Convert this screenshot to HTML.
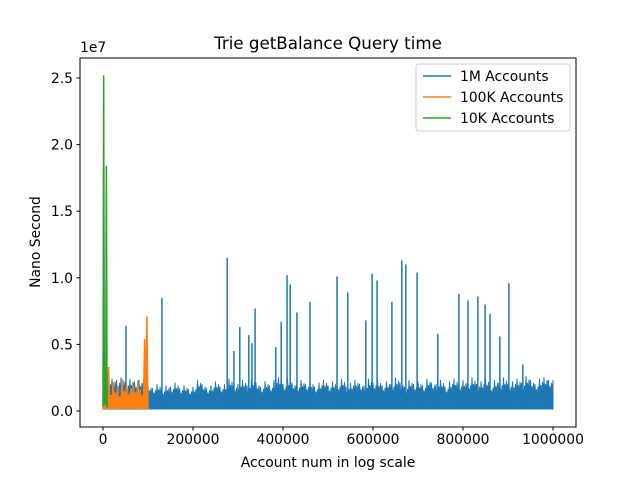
<!DOCTYPE html>
<html><head><meta charset="utf-8"><style>
body{margin:0;background:#fff}
svg{display:block;font-family:"DejaVu Sans","Liberation Sans",sans-serif}
</style></head><body>
<svg id="c" width="640" height="480"></svg>
<script>
// ---- data ----
const xTicks=[0,200000,400000,600000,800000,1000000];
const xTickLabels=["0","200000","400000","600000","800000","1000000"];
const yTicks=[0,5e6,10e6,15e6,20e6,25e6];
const yTickLabels=["0.0","0.5","1.0","1.5","2.0","2.5"];
// 1M accounts: band envelope per 10k bin (ns)
const blueEnvelope=[0.8e6,2.2e6,2.4e6,2.3e6,2.5e6,2.1e6,2.4e6,2.2e6,2.3e6,2.4e6,
1.9e6,1.7e6,2.0e6,1.6e6,1.9e6,1.8e6,2.1e6,1.7e6,1.9e6,1.6e6,
1.8e6,2.3e6,2.0e6,1.7e6,1.9e6,2.2e6,1.8e6,2.0e6,2.4e6,1.9e6,
2.0e6,2.3e6,1.9e6,2.4e6,2.1e6,1.8e6,2.2e6,1.9e6,2.3e6,2.5e6,
2.0e6,2.4e6,2.1e6,1.9e6,2.3e6,2.0e6,2.2e6,1.8e6,2.1e6,2.3e6,
1.9e6,2.2e6,2.0e6,2.4e6,1.8e6,2.1e6,2.3e6,2.0e6,1.9e6,2.4e6,
2.1e6,2.3e6,1.9e6,2.2e6,2.0e6,2.5e6,2.1e6,1.8e6,2.3e6,2.0e6,
2.2e6,1.9e6,2.4e6,2.1e6,2.0e6,2.3e6,1.8e6,2.2e6,2.4e6,2.0e6,
2.3e6,2.1e6,2.5e6,2.0e6,2.2e6,2.4e6,1.9e6,2.3e6,2.1e6,2.5e6,
2.0e6,2.2e6,2.4e6,2.1e6,2.6e6,2.3e6,2.0e6,2.4e6,2.5e6,2.3e6];
const blueSpikeX=[51e3,131e3,276e3,291e3,304e3,324e3,331e3,338e3,384e3,396e3,409e3,416e3,431e3,460e3,520e3,544e3,584e3,598e3,609e3,642e3,664e3,673e3,698e3,744e3,791e3,811e3,833e3,849e3,860e3,882e3,902e3,933e3,987e3];
const blueSpikeY=[6.4e6,8.5e6,11.5e6,4.5e6,6.3e6,5.7e6,5.1e6,7.7e6,4.8e6,6.7e6,10.2e6,9.5e6,7.4e6,8.2e6,10.1e6,8.9e6,6.8e6,10.3e6,9.8e6,8.2e6,11.3e6,11.0e6,10.4e6,5.8e6,8.8e6,8.3e6,8.6e6,8.0e6,7.3e6,5.6e6,9.6e6,3.5e6,2.3e6];
const blueLow=0.15e6;
// 100K accounts: envelope per 5k bin
const orangeEnvelope=[1.0e6,1.5e6,3.3e6,1.2e6,2.2e6,1.4e6,1.8e6,1.1e6,2.4e6,1.5e6,2.0e6,1.3e6,1.7e6,1.9e6,1.4e6,2.3e6,1.6e6,1.2e6,5.4e6,7.1e6];
const orangeLow=0.15e6;
// 10K accounts
const greenX=[0,1500,3000,4500,6000,7500,9000,10000];
const greenY=[0.3e6,25.2e6,0.5e6,1.1e6,0.4e6,18.4e6,0.6e6,0.2e6];

// ---- axes ----
const L=80,R=576,T=58,B=427;
const X=v=>103+v*450/1e6;
const Y=v=>411-v*13.32/1e6;
const svg=document.getElementById('c');
const NS='http://www.w3.org/2000/svg';
function mk(t,a,p){const e=document.createElementNS(NS,t);for(const k in a)e.setAttribute(k,a[k]);(p||svg).appendChild(e);return e;}

// blue band (filled, jagged top)
const shape=[1,0.55,0.8,0.5,0.9,0.6];
let pts=[X(0)+','+Y(blueLow)];
blueEnvelope.forEach((v,i)=>{const x0=i*10000;
 for(let j=0;j<6;j++){pts.push(X(x0+j*10000/6)+','+Y(v*shape[j]));}});
pts.push(X(1000000)+','+Y(blueEnvelope[blueEnvelope.length-1]));
pts.push(X(1000000)+','+Y(blueLow));
let e=mk('polygon',{points:pts.join(' '),fill:'#1f77b4',stroke:'#1f77b4','stroke-width':1,'stroke-linejoin':'round'});


blueSpikeX.forEach((x,i)=>{
 const s=mk('line',{x1:X(x),x2:X(x),y1:Y(blueLow),y2:Y(blueSpikeY[i]),stroke:'#1f77b4','stroke-width':1.5});
 
 
});
// orange
pts=[];
orangeEnvelope.forEach((v,i)=>{const x0=i*5000;
 pts.push(X(x0)+','+Y(orangeLow));pts.push(X(x0+1250)+','+Y(v*0.6));pts.push(X(x0+2500)+','+Y(v));pts.push(X(x0+3750)+','+Y(v*0.5));});
pts.push(X(100000)+','+Y(orangeLow));
e=mk('polyline',{points:pts.join(' '),fill:'#ff7f0e',stroke:'#ff7f0e','stroke-width':1.5});


// green
e=mk('polyline',{points:greenX.map((x,i)=>X(x)+','+Y(greenY[i])).join(' '),fill:'none',stroke:'#2ca02c','stroke-width':1.5});



// frame
e=mk('rect',{x:L,y:T,width:R-L,height:B-T,fill:'none',stroke:'#000','stroke-width':1});


xTicks.forEach((v,i)=>{
 mk('line',{x1:X(v),x2:X(v),y1:B,y2:B+3.5,stroke:'#000'});
 const t=mk('text',{x:X(v),y:B+17,'font-size':13.9,'text-anchor':'middle'});t.textContent=xTickLabels[i];
 
 
});
yTicks.forEach((v,i)=>{
 mk('line',{x1:L,x2:L-3.5,y1:Y(v),y2:Y(v),stroke:'#000'});
 const t=mk('text',{x:L-7,y:Y(v)+5,'font-size':13.9,'text-anchor':'end'});t.textContent=yTickLabels[i];
 
 
});
</script>
<div style="position:absolute;left:0;top:0;width:640px;height:480px;pointer-events:none">
<svg width="640" height="480" style="font-family:'DejaVu Sans','Liberation Sans',sans-serif">
<text x="80" y="52" font-size="13.9">1e7</text>
<text x="328" y="49" font-size="16.7" text-anchor="middle">Trie getBalance Query time</text>
<text x="328" y="467" font-size="13.9" text-anchor="middle">Account num in log scale</text>
<text transform="translate(40,242) rotate(-90)" font-size="13.9" text-anchor="middle">Nano Second</text>
<g>
<rect x="416" y="64" width="154" height="67" rx="3" fill="#fff" fill-opacity="0.8" stroke="#ccc"/>
<line x1="423" x2="451" y1="76" y2="76" stroke="#1f77b4" stroke-width="1.5"/>
<text x="460" y="81" font-size="13.9">1M Accounts</text>
<line x1="423" x2="451" y1="97" y2="97" stroke="#ff7f0e" stroke-width="1.5"/>
<text x="460" y="102" font-size="13.9">100K Accounts</text>
<line x1="423" x2="451" y1="118" y2="118" stroke="#2ca02c" stroke-width="1.5"/>
<text x="460" y="123" font-size="13.9">10K Accounts</text>
</g>
</svg></div>
</body></html>
